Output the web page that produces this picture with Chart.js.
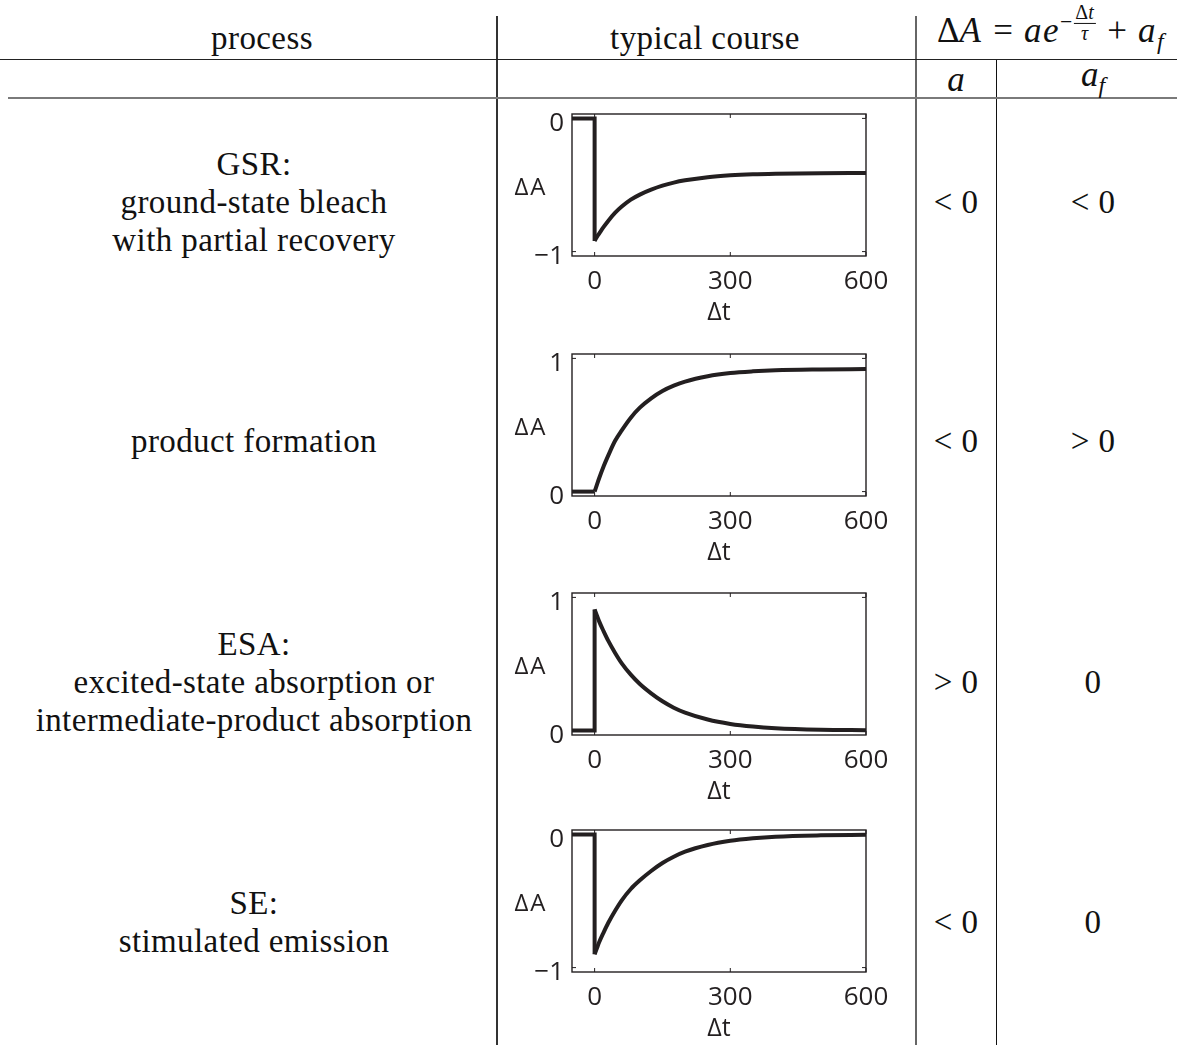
<!DOCTYPE html>
<html>
<head>
<meta charset="utf-8">
<script src="https://cdn.jsdelivr.net/npm/chart.js@4.4.1/dist/chart.umd.min.js"></script>
<style>
  html, body { margin: 0; padding: 0; background: #fff; }
  #page { position: relative; width: 1177px; height: 1045px; overflow: hidden; background: #fff; }
  .rule { position: absolute; }
  .txt {
    position: absolute; transform: translate(-50%, -50%);
    font-family: "Liberation Serif", "Times New Roman", serif; font-size: 33px;
    letter-spacing: 0.4px; line-height: 38px; text-align: center; white-space: nowrap; color: #111;
  }
  .txt i { letter-spacing: 0; }
  .math { font-size: 35px; letter-spacing: 0; }
  .head i { letter-spacing: 1.5px; }
  .head .op { display: inline-block; margin: 0 11px; }
  .sup { display: inline-block; font-size: 0.62em; position: relative; top: -0.62em; letter-spacing: 0; }
  .frac { display: inline-flex; flex-direction: column; align-items: center; vertical-align: middle; line-height: 1.0; font-size: 0.92em; margin-left: 2px; }
  .frac span:first-child { border-bottom: 1px solid #111; padding: 0 1px; }
  sub { font-size: 0.68em; letter-spacing: 0; vertical-align: -0.3em; }
  canvas.panel { position: absolute; }
</style>
</head>
<body>
<div id="page">
  <div class="rule" style="left:496px;top:16px;width:1.5px;height:1029px;background:#333"></div>
  <div class="rule" style="left:915px;top:16px;width:2px;height:1029px;background:#666"></div>
  <div class="rule" style="left:996px;top:59px;width:1px;height:986px;background:#111"></div>
  <div class="rule" style="left:0;top:58.5px;width:1177px;height:1.5px;background:#222"></div>
  <div class="rule" style="left:8px;top:97px;width:1169px;height:2px;background:#7a7a7a"></div>

  <div class="txt" style="left:262px;top:38px">process</div>
  <div class="txt" style="left:705px;top:38px">typical course</div>
  <div class="txt math head" style="left:1051px;top:36px">Δ<i>A</i><span class="op">=</span><i>ae</i><span class="sup">−<span class="frac"><span>Δ<i>t</i></span><span><i>τ</i></span></span></span><span class="op">+</span><i>a</i><sub><i>f</i></sub></div>
  <div class="txt math" style="left:956px;top:80px"><i>a</i></div>
  <div class="txt math" style="left:1093px;top:80px"><i>a</i><sub><i>f</i></sub></div>
</div>

<script>
// row labels and signs
const processNames = [
  ['GSR:', 'ground-state bleach', 'with partial recovery'],
  ['product formation'],
  ['ESA:', 'excited-state absorption or', 'intermediate-product absorption'],
  ['SE:', 'stimulated emission']
];
const signA = ['< 0', '< 0', '> 0', '< 0'];
const signAf = ['< 0', '> 0', '0', '0'];

// time axis
const preTimes = [-50, 0, 0];
const decayTimes = [0, 5, 10, 20, 30, 45, 60, 80, 100, 125, 150, 175, 200, 250, 300, 350, 400, 500, 600];
const xTicks = [0, 300, 600];

// ΔA values
const gsrValues = [-0.92, -0.89, -0.865, -0.815, -0.77, -0.71, -0.662, -0.61, -0.572, -0.535, -0.505, -0.482, -0.465, -0.441, -0.427, -0.419, -0.415, -0.411, -0.41];
const productValues = [0, 0.05, 0.10, 0.19, 0.27, 0.38, 0.46, 0.555, 0.63, 0.70, 0.755, 0.795, 0.826, 0.866, 0.89, 0.903, 0.911, 0.917, 0.92];
const esaValues = [0.91, 0.865, 0.82, 0.745, 0.675, 0.585, 0.505, 0.42, 0.35, 0.28, 0.22, 0.172, 0.135, 0.083, 0.05, 0.03, 0.018, 0.007, 0.003];
const seValues = [-0.90, -0.855, -0.81, -0.735, -0.665, -0.575, -0.495, -0.41, -0.345, -0.275, -0.215, -0.168, -0.13, -0.08, -0.048, -0.029, -0.017, -0.007, -0.003];
const preValues = [0, 0];

const negTicks = [-1, 0];
const posTicks = [0, 1];

const panels = [
  { values: gsrValues, ticks: negTicks, min: -1.033, max: 0.033, top: 114, rowY: 202 },
  { values: productValues, ticks: posTicks, min: -0.033, max: 1.033, top: 354, rowY: 441 },
  { values: esaValues, ticks: posTicks, min: -0.033, max: 1.033, top: 593, rowY: 682 },
  { values: seValues, ticks: negTicks, min: -1.033, max: 0.033, top: 830, rowY: 922 }
];

const ink = '#231f20';
const page = document.getElementById('page');

panels.forEach((p, i) => {
  const names = document.createElement('div');
  names.className = 'txt';
  names.style.left = '254px';
  names.style.top = p.rowY + 'px';
  names.innerHTML = processNames[i].join('<br>');
  page.appendChild(names);

  const a = document.createElement('div');
  a.className = 'txt';
  a.style.left = '956px';
  a.style.top = p.rowY + 'px';
  a.textContent = signA[i];
  page.appendChild(a);

  const af = document.createElement('div');
  af.className = 'txt';
  af.style.left = '1093px';
  af.style.top = p.rowY + 'px';
  af.textContent = signAf[i];
  page.appendChild(af);
});

// frame, inward ticks and the horizontal ΔA label
const framePlugin = {
  id: 'frame',
  afterDatasetsDraw(chart) {
    const { ctx, chartArea: ca, scales } = chart;
    ctx.save();
    ctx.strokeStyle = ink;
    ctx.lineWidth = 1.4;
    ctx.strokeRect(ca.left, ca.top, ca.right - ca.left, ca.bottom - ca.top);
    ctx.lineWidth = 1;
    ctx.beginPath();
    scales.x.ticks.forEach(t => {
      const px = scales.x.getPixelForValue(t.value);
      ctx.moveTo(px, ca.bottom); ctx.lineTo(px, ca.bottom - 4);
      ctx.moveTo(px, ca.top); ctx.lineTo(px, ca.top + 4);
    });
    scales.y.ticks.forEach(t => {
      const py = scales.y.getPixelForValue(t.value);
      ctx.moveTo(ca.left, py); ctx.lineTo(ca.left + 4, py);
      ctx.moveTo(ca.right, py); ctx.lineTo(ca.right - 4, py);
    });
    ctx.stroke();
    ctx.fillStyle = ink;
    ctx.font = '24px "Open Sans"';
    ctx.letterSpacing = '2px';
    ctx.textAlign = 'center';
    ctx.textBaseline = 'middle';
    ctx.fillText('ΔA', ca.left - 41, (ca.top + ca.bottom) / 2 + 3);
    ctx.restore();
  }
};

function fmt(v) {
  return v < 0 ? '−' + Math.abs(v) : String(v);
}

panels.forEach(p => {
  const canvas = document.createElement('canvas');
  canvas.className = 'panel';
  canvas.width = 400;
  canvas.height = 12 + 142 + 72;
  canvas.style.left = '500px';
  canvas.style.top = (p.top - 12) + 'px';
  page.appendChild(canvas);

  const pre = preTimes.map((t, k) => ({ x: t, y: k < preValues.length ? preValues[k] : p.values[0] }));
  const decay = decayTimes.map((t, k) => ({ x: t, y: p.values[k] }));

  new Chart(canvas.getContext('2d'), {
    type: 'line',
    data: {
      datasets: [
        { data: pre, borderColor: ink, borderWidth: 4, pointRadius: 0, tension: 0, borderJoinStyle: 'miter' },
        { data: decay, borderColor: ink, borderWidth: 4, pointRadius: 0, cubicInterpolationMode: 'monotone' }
      ]
    },
    options: {
      responsive: false,
      animation: false,
      devicePixelRatio: 1,
      layout: { padding: { top: 12, right: 34, left: 0, bottom: 0 } },
      plugins: { legend: { display: false }, tooltip: { enabled: false } },
      scales: {
        x: {
          type: 'linear', min: -50, max: 600,
          afterBuildTicks: s => { s.ticks = xTicks.map(v => ({ value: v })); },
          afterFit: s => { s.height = 72; s.paddingLeft = 0; s.paddingRight = 0; },
          grid: { display: false, drawTicks: false },
          border: { display: false },
          ticks: { color: ink, font: { family: 'Open Sans', size: 26 }, padding: 10, maxRotation: 0, callback: fmt },
          title: { display: true, text: 'Δt', color: ink, font: { family: 'Open Sans', size: 25 }, padding: { top: 0, bottom: 0 } }
        },
        y: {
          type: 'linear', min: p.min, max: p.max,
          afterBuildTicks: s => { s.ticks = p.ticks.map(v => ({ value: v })); },
          afterFit: s => { s.width = 72; s.paddingTop = 0; s.paddingBottom = 0; },
          grid: { display: false, drawTicks: false },
          border: { display: false },
          ticks: { color: ink, font: { family: 'Open Sans', size: 26 }, padding: 8, labelOffset: 5, callback: fmt }
        }
      }
    },
    plugins: [framePlugin]
  });
});
</script>
</body>
</html>
